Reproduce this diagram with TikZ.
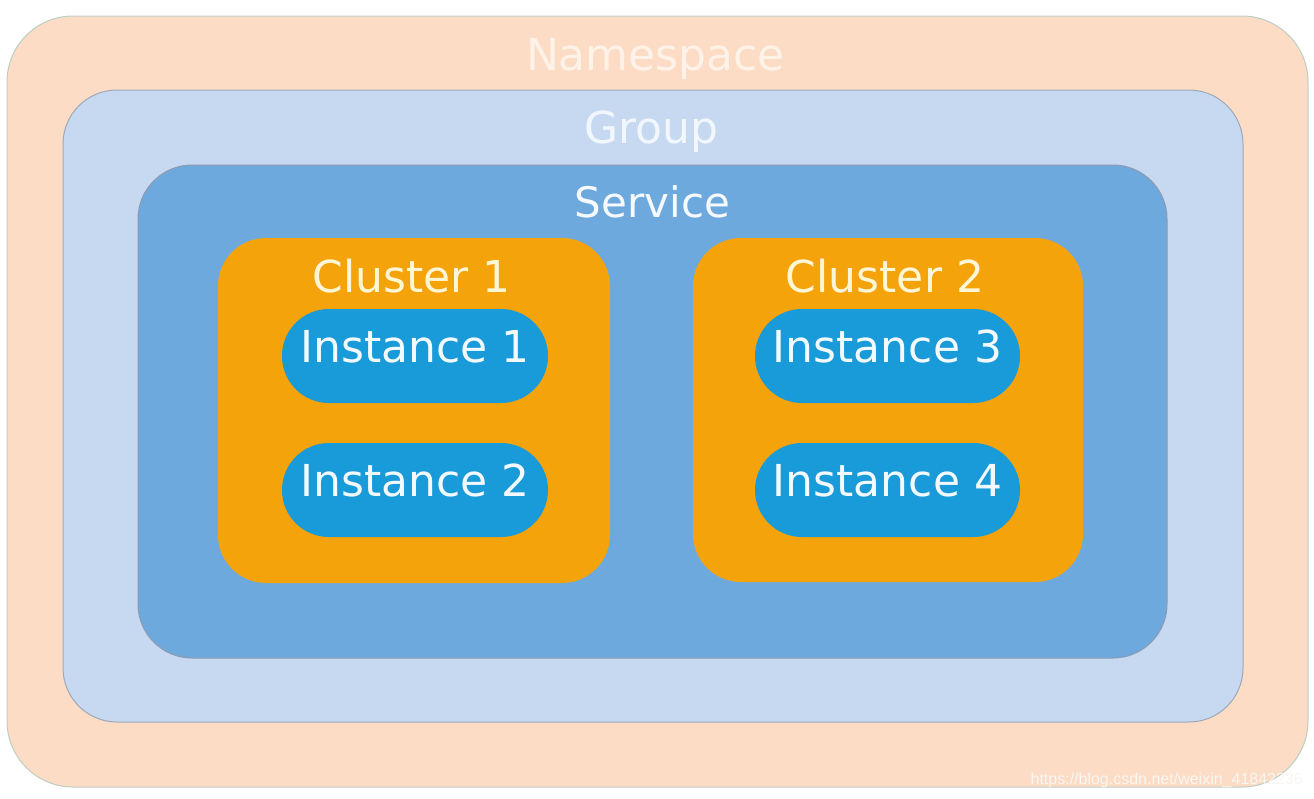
\documentclass[tikz,border=0pt]{standalone}
\usepackage{fontspec}
\setmainfont{DejaVu Sans}
\newfontfamily\wmfont{Liberation Sans}
\definecolor{nsfill}{HTML}{FCDCC5}
\definecolor{nsedge}{HTML}{BCCFC2}
\definecolor{grfill}{HTML}{C6D9F0}
\definecolor{gredge}{HTML}{9EA9B8}
\definecolor{svfill}{HTML}{6EA9DE}
\definecolor{svedge}{HTML}{8C9BB0}
\definecolor{clfill}{HTML}{F4A30B}
\definecolor{infill}{HTML}{199AD9}
\definecolor{nstext}{HTML}{FFF2E8}
\definecolor{grtext}{HTML}{F2F7FF}
\definecolor{svtext}{HTML}{F6FAFF}
\definecolor{cltext}{HTML}{FFF6D6}
\definecolor{intext}{HTML}{F2FAFF}
\definecolor{wmtext}{HTML}{FAF6F2}
\tikzset{
  box/.style={rectangle, inner sep=0pt, line width=1pt},
  lbl/.style={anchor=base, inner sep=0pt, font=\fontsize{44pt}{44pt}\selectfont},
  inst/.style={box, fill=infill, draw=none, rounded corners=47pt,
    minimum width=266pt, minimum height=94pt, text=intext,
    font=\fontsize{44pt}{44pt}\selectfont, text height=30pt, text depth=18pt},
}
\begin{document}
\begin{tikzpicture}[x=1pt,y=-1pt]
\useasboundingbox[fill=white] (0,0) rectangle (1314,798);
% containers
\node[box, fill=nsfill, draw=nsedge, rounded corners=66pt, minimum width=1301pt, minimum height=771pt] (ns) at (657.5,401.5) {};
\node[box, fill=grfill, draw=gredge, rounded corners=54pt, minimum width=1180pt, minimum height=632pt] (gr) at (653,406) {};
\node[box, fill=svfill, draw=svedge, rounded corners=54pt, minimum width=1029pt, minimum height=493pt] (sv) at (652.5,411.5) {};
\node[box, fill=clfill, draw=none, rounded corners=48pt, minimum width=392pt, minimum height=345pt] (c1) at (414,410.5) {};
\node[box, fill=clfill, draw=none, rounded corners=48pt, minimum width=390pt, minimum height=344pt] (c2) at (888,410) {};
% labels
\node[lbl, text=nstext] (nslbl) at (655.5,70) {Namespace};
\node[lbl, text=grtext] (grlbl) at (651.5,143) {Group};
\node[lbl, text=svtext, font=\fontsize{42pt}{42pt}\selectfont] (svlbl) at (652.5,217) {Service};
\node[lbl, text=cltext] (c1lbl) at (411.5,292) {Cluster 1};
\node[lbl, text=cltext] (c2lbl) at (885,292) {Cluster 2};
% instances
\node[inst] (i1) at (415,356) {Instance 1};
\node[inst] (i2) at (415,490) {Instance 2};
\node[inst, minimum width=265pt] (i3) at (887.5,356) {Instance 3};
\node[inst, minimum width=265pt] (i4) at (887.5,490) {Instance 4};
% watermark
\node[anchor=base east, inner sep=0pt, text=wmtext, font=\wmfont\fontsize{16pt}{16pt}\selectfont] (wm) at (1303,784) {https://blog.csdn.net/weixin\_41842236};
\end{tikzpicture}
\end{document}
